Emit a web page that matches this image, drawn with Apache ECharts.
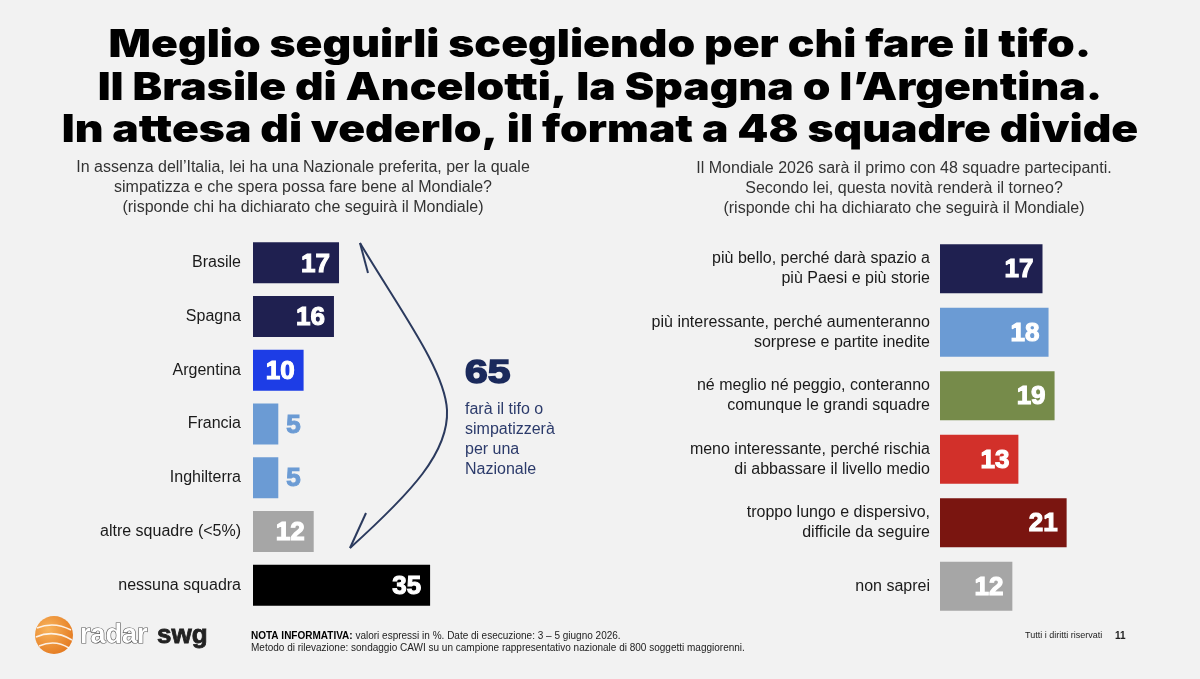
<!DOCTYPE html>
<html>
<head>
<meta charset="utf-8">
<script src="https://cdn.jsdelivr.net/npm/echarts@6/dist/echarts.min.js"></script>
<style>
html,body{margin:0;padding:0;background:#f2f2f2;}
#chart{width:1200px;height:679px;}
</style>
</head>
<body>
<div id="chart"></div>
<script>
const titleLines = [
  'Meglio seguirli scegliendo per chi fare il tifo.',
  'Il Brasile di Ancelotti, la Spagna o l\u2019Argentina.',
  'In attesa di vederlo, il format a 48 squadre divide'
];
const leftQuestion = 'In assenza dell\u2019Italia, lei ha una Nazionale preferita, per la quale\nsimpatizza e che spera possa fare bene al Mondiale?\n(risponde chi ha dichiarato che seguirà il Mondiale)';
const rightQuestion = 'Il Mondiale 2026 sarà il primo con 48 squadre partecipanti.\nSecondo lei, questa novità renderà il torneo?\n(risponde chi ha dichiarato che seguirà il Mondiale)';

const leftCategories = ['Brasile','Spagna','Argentina','Francia','Inghilterra','altre squadre (<5%)','nessuna squadra'];
const leftValues = [17,16,10,5,5,12,35];
const leftColors = ['#1f2050','#1f2050','#1d3de6','#6b9bd4','#6b9bd4','#a6a6a6','#000000'];

const rightCategories = [
  'più bello, perché darà spazio a\npiù Paesi e più storie',
  'più interessante, perché aumenteranno\nsorprese e partite inedite',
  'né meglio né peggio, conteranno\ncomunque le grandi squadre',
  'meno interessante, perché rischia\ndi abbassare il livello medio',
  'troppo lungo e dispersivo,\ndifficile da seguire',
  'non saprei'
];
const rightValues = [17,18,19,13,21,12];
const rightColors = ['#1f2050','#6b9bd4','#768b4a','#d2302a','#7a1510','#a6a6a6'];

const totalValue = 65;
const totalText = 'farà il tifo o\nsimpatizzerà\nper una\nNazionale';

function barData(values, colors){
  return values.map((v,i)=>{
    const inside = v >= 10;
    const col = inside ? '#ffffff' : colors[i];
    return {
      value: v,
      itemStyle:{color: colors[i]},
      label: {show:true, position: inside ? 'insideRight' : 'right', distance: inside ? 9 : 8,
               offset:[0,1.5],
               color: col, textBorderColor: col, textBorderWidth: 1.1,
               fontFamily:'Liberation Sans', fontWeight:'bold', fontSize:26}
    };
  });
}

const titleStyle = {align:'center', verticalAlign:'middle', fontFamily:'Inter', fontWeight:900, fontSize:38, fill:'#000'};
const arrowStyle = {stroke:'#2b3a5e', lineWidth:2, fill:null};

const chart = echarts.init(document.getElementById('chart'));
const option = {
  backgroundColor:'#f2f2f2',
  animation:false,
  grid:[
    {left:253, top:236, width:202.4, height:376, containLabel:false},
    {left:940, top:237, width:241.2, height:381, containLabel:false}
  ],
  xAxis:[
    {gridIndex:0, type:'value', min:0, max:40, show:false},
    {gridIndex:1, type:'value', min:0, max:40, show:false}
  ],
  yAxis:[
    {gridIndex:0, type:'category', inverse:true, data:leftCategories,
     axisLine:{show:false}, axisTick:{show:false}, splitLine:{show:false},
     axisLabel:{margin:12, fontSize:16, color:'#1a1a1a', fontFamily:'Liberation Sans'}},
    {gridIndex:1, type:'category', inverse:true, data:rightCategories,
     axisLine:{show:false}, axisTick:{show:false}, splitLine:{show:false},
     axisLabel:{margin:10, fontSize:16, lineHeight:20, color:'#1a1a1a', fontFamily:'Liberation Sans', align:'right'}}
  ],
  series:[
    {type:'bar', xAxisIndex:0, yAxisIndex:0, barWidth:41, data:barData(leftValues,leftColors)},
    {type:'bar', xAxisIndex:1, yAxisIndex:1, barWidth:49, data:barData(rightValues,rightColors)}
  ],
  graphic:[
    {type:'text', x:600, y:46, scaleX:1.168, style:Object.assign({text:titleLines[0]}, titleStyle)},
    {type:'text', x:600, y:88.5, scaleX:1.168, style:Object.assign({text:titleLines[1]}, titleStyle)},
    {type:'text', x:600, y:131, scaleX:1.168, style:Object.assign({text:titleLines[2]}, titleStyle)},
    {type:'text', x:303, y:188, style:{text:leftQuestion, align:'center', verticalAlign:'middle', fontFamily:'Liberation Sans', fontSize:16, lineHeight:20, fill:'#333'}},
    {type:'text', x:904, y:189, style:{text:rightQuestion, align:'center', verticalAlign:'middle', fontFamily:'Liberation Sans', fontSize:16, lineHeight:20, fill:'#333'}},
    {type:'bezierCurve', shape:{x1:360, y1:243, cpx1:400, cpy1:310, cpx2:445, cpy2:370, x2:447, y2:410}, style:arrowStyle},
    {type:'bezierCurve', shape:{x1:447, y1:410, cpx1:449, cpy1:452, cpx2:412, cpy2:492, x2:350, y2:548}, style:arrowStyle},
    {type:'line', shape:{x1:360, y1:243, x2:368, y2:273}, style:arrowStyle},
    {type:'line', shape:{x1:350, y1:548, x2:366, y2:513}, style:arrowStyle},
    {type:'text', x:465, y:373.5, scaleX:1.2, style:{text:String(totalValue), align:'left', verticalAlign:'middle', fontFamily:'Liberation Sans', fontWeight:'bold', fontSize:34, fill:'#1b2a5c', stroke:'#1b2a5c', lineWidth:1.6}},
    {type:'text', x:465, y:439.5, style:{text:totalText, align:'left', verticalAlign:'middle', fontFamily:'Liberation Sans', fontSize:16, lineHeight:20, fill:'#2c3b6b'}},
    // logo
    {type:'circle', shape:{cx:54, cy:635, r:19}, style:{fill:{type:'radial', x:0.35, y:0.35, r:0.8, colorStops:[{offset:0,color:'#f8b45c'},{offset:1,color:'#e2741a'}]}}},
    {type:'bezierCurve', shape:{x1:37, y1:628, cpx1:54, cpy1:621, x2:71, y2:630}, style:{stroke:'#ffffff', lineWidth:1.6, fill:null, opacity:0.85}},
    {type:'bezierCurve', shape:{x1:36, y1:637, cpx1:54, cpy1:629, x2:72, y2:640}, style:{stroke:'#ffffff', lineWidth:1.6, fill:null, opacity:0.85}},
    {type:'bezierCurve', shape:{x1:39, y1:646, cpx1:55, cpy1:639, x2:69, y2:648}, style:{stroke:'#ffffff', lineWidth:1.6, fill:null, opacity:0.85}},
    {type:'text', x:80, y:636, style:{text:'radar', align:'left', verticalAlign:'middle', fontFamily:'Liberation Sans', fontWeight:'bold', fontSize:27, fill:'#ffffff', stroke:'#555555', lineWidth:1.2}},
    {type:'text', x:157, y:636, style:{text:'swg', align:'left', verticalAlign:'middle', fontFamily:'Liberation Sans', fontWeight:'bold', fontSize:26, fill:'#222222', stroke:'#222222', lineWidth:0.8}},
    // footer
    {type:'text', x:251, y:636, style:{text:'{b|NOTA INFORMATIVA:} valori espressi in %. Date di esecuzione: 3 \u2013 5 giugno 2026.', align:'left', verticalAlign:'middle', fontFamily:'Liberation Sans', fontSize:10, fill:'#222',
      rich:{b:{fontWeight:'bold', fontFamily:'Liberation Sans', fontSize:10, fill:'#000'}}}},
    {type:'text', x:251, y:648, style:{text:'Metodo di rilevazione: sondaggio CAWI su un campione rappresentativo nazionale di 800 soggetti maggiorenni.', align:'left', verticalAlign:'middle', fontFamily:'Liberation Sans', fontSize:10, fill:'#222'}},
    {type:'text', x:1025, y:636, style:{text:'Tutti i diritti riservati', align:'left', verticalAlign:'middle', fontFamily:'Liberation Sans', fontSize:9, fill:'#222'}},
    {type:'text', x:1115, y:636, style:{text:'11', align:'left', verticalAlign:'middle', fontFamily:'Liberation Sans', fontWeight:'bold', fontSize:10, fill:'#222'}}
  ]
};
chart.setOption(option);
</script>
</body>
</html>
